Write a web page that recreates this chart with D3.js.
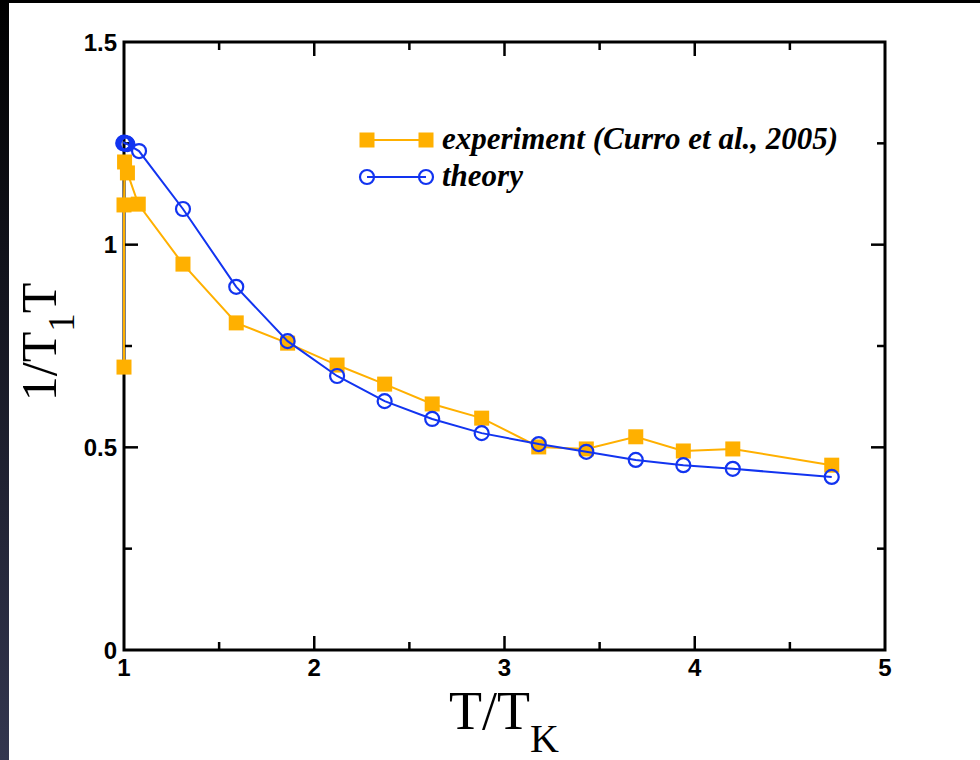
<!DOCTYPE html>
<html>
<head>
<meta charset="utf-8">
<script src="https://cdn.jsdelivr.net/npm/d3@7"></script>
<style>
  html, body { margin: 0; background: #000; overflow: hidden; }
  svg { display: block; }
</style>
</head>
<body>
<svg id="chart" width="980" height="760"></svg>
<script>
// experiment (Curro et al., 2005)
var expX = [1.0, 1.0, 1.003, 1.018, 1.075, 1.31, 1.59, 1.86, 2.12, 2.37, 2.62, 2.88, 3.18, 3.43, 3.69, 3.94, 4.2, 4.72];
var expY = [0.698, 1.098, 1.204, 1.177, 1.1, 0.952, 0.807, 0.757, 0.703, 0.656, 0.607, 0.572, 0.501, 0.496, 0.526, 0.491, 0.496, 0.456];
// theory (several overlapping points near T/TK = 1)
var thX = [0.996, 1.0, 1.004, 1.008, 1.013, 1.018, 1.079, 1.31, 1.59, 1.86, 2.12, 2.37, 2.62, 2.88, 3.18, 3.43, 3.69, 3.94, 4.2, 4.72];
var thY = [1.25, 1.252, 1.25, 1.249, 1.25, 1.248, 1.231, 1.088, 0.896, 0.762, 0.676, 0.614, 0.57, 0.535, 0.508, 0.489, 0.469, 0.456, 0.447, 0.427];

var xTicks = [1, 2, 3, 4, 5];
var xMinor = [1.5, 2.5, 3.5, 4.5];
var yTicks = [0, 0.5, 1, 1.5];
var yTickLabels = ['0', '0.5', '1', '1.5'];
var yMinor = [0.25, 0.75, 1.25];

var legendLabels = ['experiment (Curro et al., 2005)', 'theory'];

var orange = '#ffb000', blue = '#1234f0';

var svg = d3.select('#chart');

// page background: dark strip on the left, black band on top
var grad = svg.append('defs').append('linearGradient')
    .attr('id', 'strip').attr('x1', 0).attr('y1', 0).attr('x2', 0).attr('y2', 1);
grad.append('stop').attr('offset', '0%').attr('stop-color', '#000');
grad.append('stop').attr('offset', '100%').attr('stop-color', '#33364f');
svg.append('rect').attr('width', 980).attr('height', 760).attr('fill', '#000');
svg.append('rect').attr('x', 0).attr('y', 0).attr('width', 9).attr('height', 760).attr('fill', 'url(#strip)');
svg.append('rect').attr('x', 9).attr('y', 3).attr('width', 971).attr('height', 757).attr('fill', '#fff');

var x = d3.scaleLinear().domain([1, 5]).range([124, 885]);
var y = d3.scaleLinear().domain([0, 1.5]).range([650, 42]);

var g = svg.append('g');

// frame
g.append('rect')
    .attr('x', x(1)).attr('y', y(1.5))
    .attr('width', x(5) - x(1)).attr('height', y(0) - y(1.5))
    .attr('fill', 'none').attr('stroke', '#000').attr('stroke-width', 3);

// inward ticks on all four sides
function ticks(vals, len) {
  vals.forEach(function(v) {
    g.append('line').attr('x1', x(v)).attr('x2', x(v)).attr('y1', y(0)).attr('y2', y(0) - len)
      .attr('stroke', '#000').attr('stroke-width', 2.5);
    g.append('line').attr('x1', x(v)).attr('x2', x(v)).attr('y1', y(1.5)).attr('y2', y(1.5) + len)
      .attr('stroke', '#000').attr('stroke-width', 2.5);
  });
}
function yticks(vals, len) {
  vals.forEach(function(v) {
    g.append('line').attr('x1', x(1)).attr('x2', x(1) + len).attr('y1', y(v)).attr('y2', y(v))
      .attr('stroke', '#000').attr('stroke-width', 2.5);
    g.append('line').attr('x1', x(5)).attr('x2', x(5) - len).attr('y1', y(v)).attr('y2', y(v))
      .attr('stroke', '#000').attr('stroke-width', 2.5);
  });
}
ticks(xTicks.slice(1, -1), 14);
ticks(xMinor, 8);
yticks(yTicks.slice(1, -1), 14);
yticks(yMinor, 8);

// tick labels
g.selectAll('.xl').data(xTicks).enter().append('text')
    .attr('x', function(d) { return x(d); }).attr('y', 676)
    .attr('text-anchor', 'middle')
    .style('font', 'bold 24px "Liberation Sans", Arial, sans-serif')
    .text(function(d) { return d; });
g.selectAll('.yl').data(yTicks).enter().append('text')
    .attr('x', 117).attr('y', function(d) { return y(d) + 8.5; })
    .attr('text-anchor', 'end')
    .style('font', 'bold 24px "Liberation Sans", Arial, sans-serif')
    .text(function(d, i) { return yTickLabels[i]; });

// axis titles
var xt = g.append('text').attr('x', 504).attr('y', 729).attr('text-anchor', 'middle')
    .style('font', '54px "Liberation Serif", "Times New Roman", serif');
xt.append('tspan').text('T/T');
xt.append('tspan').attr('dy', 23).style('font-size', '40px').text('K');

var yt = g.append('text').attr('transform', 'translate(56,342) rotate(-90)').attr('text-anchor', 'middle')
    .style('font', '50px "Liberation Serif", "Times New Roman", serif');
yt.append('tspan').text('1/T');
yt.append('tspan').attr('dy', 18).style('font-size', '37px').text('1');
yt.append('tspan').attr('dy', -18).text('T');

// series
var expPts = expX.map(function(v, i) { return [v, expY[i]]; });
var thPts = thX.map(function(v, i) { return [v, thY[i]]; });
var line = d3.line().x(function(d) { return x(d[0]); }).y(function(d) { return y(d[1]); });

g.append('path').datum(expPts).attr('d', line)
    .attr('fill', 'none').attr('stroke', orange).attr('stroke-width', 2);
g.selectAll('.sq').data(expPts).enter().append('rect')
    .attr('x', function(d) { return x(d[0]) - 7.5; })
    .attr('y', function(d) { return y(d[1]) - 7.5; })
    .attr('width', 15).attr('height', 15).attr('fill', orange);

g.append('path').datum(thPts).attr('d', line)
    .attr('fill', 'none').attr('stroke', blue).attr('stroke-width', 2);
g.selectAll('.ci').data(thPts).enter().append('circle')
    .attr('cx', function(d) { return x(d[0]); })
    .attr('cy', function(d) { return y(d[1]); })
    .attr('r', 7).attr('fill', 'none').attr('stroke', blue).attr('stroke-width', 2.2);

// legend
var lg = g.append('g');
lg.append('line').attr('x1', 367).attr('x2', 426).attr('y1', 140).attr('y2', 140)
    .attr('stroke', orange).attr('stroke-width', 2);
[367, 426].forEach(function(cx) {
  lg.append('rect').attr('x', cx - 7.5).attr('y', 132.5).attr('width', 15).attr('height', 15).attr('fill', orange);
});
lg.append('line').attr('x1', 367).attr('x2', 426).attr('y1', 177).attr('y2', 177)
    .attr('stroke', blue).attr('stroke-width', 2);
[367, 426].forEach(function(cx) {
  lg.append('circle').attr('cx', cx).attr('cy', 177).attr('r', 7)
    .attr('fill', 'none').attr('stroke', blue).attr('stroke-width', 2.2);
});
lg.selectAll('text').data(legendLabels).enter().append('text')
    .attr('x', 442).attr('y', function(d, i) { return 149 + i * 37; })
    .style('font', 'italic bold 31px "Liberation Serif", "Times New Roman", serif')
    .text(function(d) { return d; });
</script>
</body>
</html>
